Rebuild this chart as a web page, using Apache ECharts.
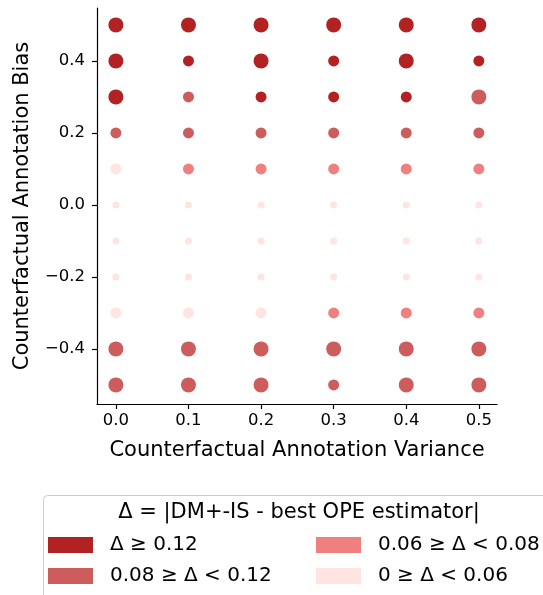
<!DOCTYPE html>
<html>
<head>
<meta charset="utf-8">
<script src="https://cdn.jsdelivr.net/npm/echarts@6/dist/echarts.min.js"></script>
<style>
html,body{margin:0;padding:0;background:#fff;}
#chart{width:543px;height:595px;}
</style>
</head>
<body>
<div id="chart"></div>
<script>
// Data
const xValues = [0.0, 0.1, 0.2, 0.3, 0.4, 0.5];
const yValues = [0.5, 0.4, 0.3, 0.2, 0.1, 0.0, -0.1, -0.2, -0.3, -0.4, -0.5];
const xTicks = [0.0, 0.1, 0.2, 0.3, 0.4, 0.5];
const yTicks = [-0.4, -0.2, 0.0, 0.2, 0.4];
const categoryNames = ['Δ ≥ 0.12', '0.08 ≥ Δ < 0.12', '0.06 ≥ Δ < 0.08', '0 ≥ Δ < 0.06'];
// category index per cell (rows follow yValues, columns follow xValues)
const categoryGrid = [
  [0,0,0,0,0,0],
  [0,0,0,0,0,0],
  [0,1,0,0,0,1],
  [1,1,1,1,1,1],
  [3,2,2,2,2,2],
  [3,3,3,3,3,3],
  [3,3,3,3,3,3],
  [3,3,3,3,3,3],
  [3,3,3,2,2,2],
  [1,1,1,1,1,1],
  [1,1,1,1,1,1]
];
// marker magnitude level per cell
const sizeGrid = [
  [3,3,3,3,3,3],
  [3,2,3,2,3,2],
  [3,2,2,2,2,3],
  [2,2,2,2,2,2],
  [2,2,2,2,2,2],
  [1,1,1,1,1,1],
  [1,1,1,1,1,1],
  [1,1,1,1,1,1],
  [2,2,2,2,2,2],
  [3,3,3,3,3,3],
  [3,3,3,2,3,3]
];

const colors = ['#B22222', '#CD5C5C', '#F08080', '#FFE4E1'];
const sizePx = {1: 7, 2: 11, 3: 15};
const FONT = 'DejaVu Sans';

const seriesData = categoryNames.map(() => []);
yValues.forEach((y, r) => {
  xValues.forEach((x, c) => {
    seriesData[categoryGrid[r][c]].push([x, y, sizeGrid[r][c]]);
  });
});

const fmt = v => {
  const s = (Math.abs(v) < 1e-9 ? 0 : v).toFixed(1);
  return s.replace('-', '\u2212');
};

const chart = echarts.init(document.getElementById('chart'), null, {renderer: 'canvas'});
chart.setOption({
  animation: false,
  backgroundColor: '#fff',
  textStyle: {fontFamily: FONT},
  grid: {left: 97, right: 46, top: 8, bottom: 191, containLabel: false},
  xAxis: {
    type: 'value',
    min: -0.026, max: 0.525,
    name: 'Counterfactual Annotation Variance',
    nameLocation: 'middle',
    nameGap: 36,
    nameTextStyle: {fontFamily: FONT, fontSize: 21, color: '#000'},
    axisLine: {show: true, onZero: false, lineStyle: {color: '#000', width: 1.2}},
    axisTick: {show: true, inside: false, length: 5, lineStyle: {color: '#000', width: 1.2}, customValues: xTicks},
    axisLabel: {show: true, margin: 8, fontFamily: FONT, fontSize: 16.5, color: '#000', formatter: fmt, customValues: xTicks},
    splitLine: {show: false}
  },
  yAxis: {
    type: 'value',
    min: -0.553, max: 0.547,
    name: 'Counterfactual Annotation Bias',
    nameLocation: 'middle',
    nameGap: 64,
    nameTextStyle: {fontFamily: FONT, fontSize: 21, color: '#000'},
    axisLine: {show: true, onZero: false, lineStyle: {color: '#000', width: 1.2}},
    axisTick: {show: true, inside: false, length: 5, lineStyle: {color: '#000', width: 1.2}, customValues: yTicks},
    axisLabel: {show: true, margin: 12, fontFamily: FONT, fontSize: 16.5, color: '#000', formatter: fmt, customValues: yTicks},
    splitLine: {show: false}
  },
  title: {
    text: 'Δ = |DM+-IS - best OPE estimator|',
    left: 294, top: 497,
    textAlign: 'center',
    textStyle: {fontFamily: FONT, fontSize: 21, fontWeight: 'normal', color: '#000'}
  },
  legend: [
    {
      data: [categoryNames[0], categoryNames[1]],
      orient: 'vertical', left: 48, top: 535,
      itemWidth: 45, itemHeight: 16, itemGap: 11, icon: 'rect',
      padding: 0, selectedMode: false,
      textStyle: {fontFamily: FONT, fontSize: 20, color: '#000', padding: [0, 0, 0, 12]}
    },
    {
      data: [categoryNames[2], categoryNames[3]],
      orient: 'vertical', left: 316, top: 535,
      itemWidth: 45, itemHeight: 16, itemGap: 11, icon: 'rect',
      padding: 0, selectedMode: false,
      textStyle: {fontFamily: FONT, fontSize: 20, color: '#000', padding: [0, 0, 0, 12]}
    }
  ],
  graphic: [{
    type: 'rect', left: 41, top: 493, silent: true,
    shape: {width: 540, height: 140, r: 4},
    style: {fill: 'none', stroke: '#cccccc', lineWidth: 1}
  }],
  series: categoryNames.map((name, i) => ({
    name: name,
    type: 'scatter',
    data: seriesData[i],
    symbol: 'circle',
    symbolSize: d => sizePx[d[2]],
    itemStyle: {color: colors[i], opacity: 1},
    emphasis: {disabled: true}
  }))
});
</script>
</body>
</html>
